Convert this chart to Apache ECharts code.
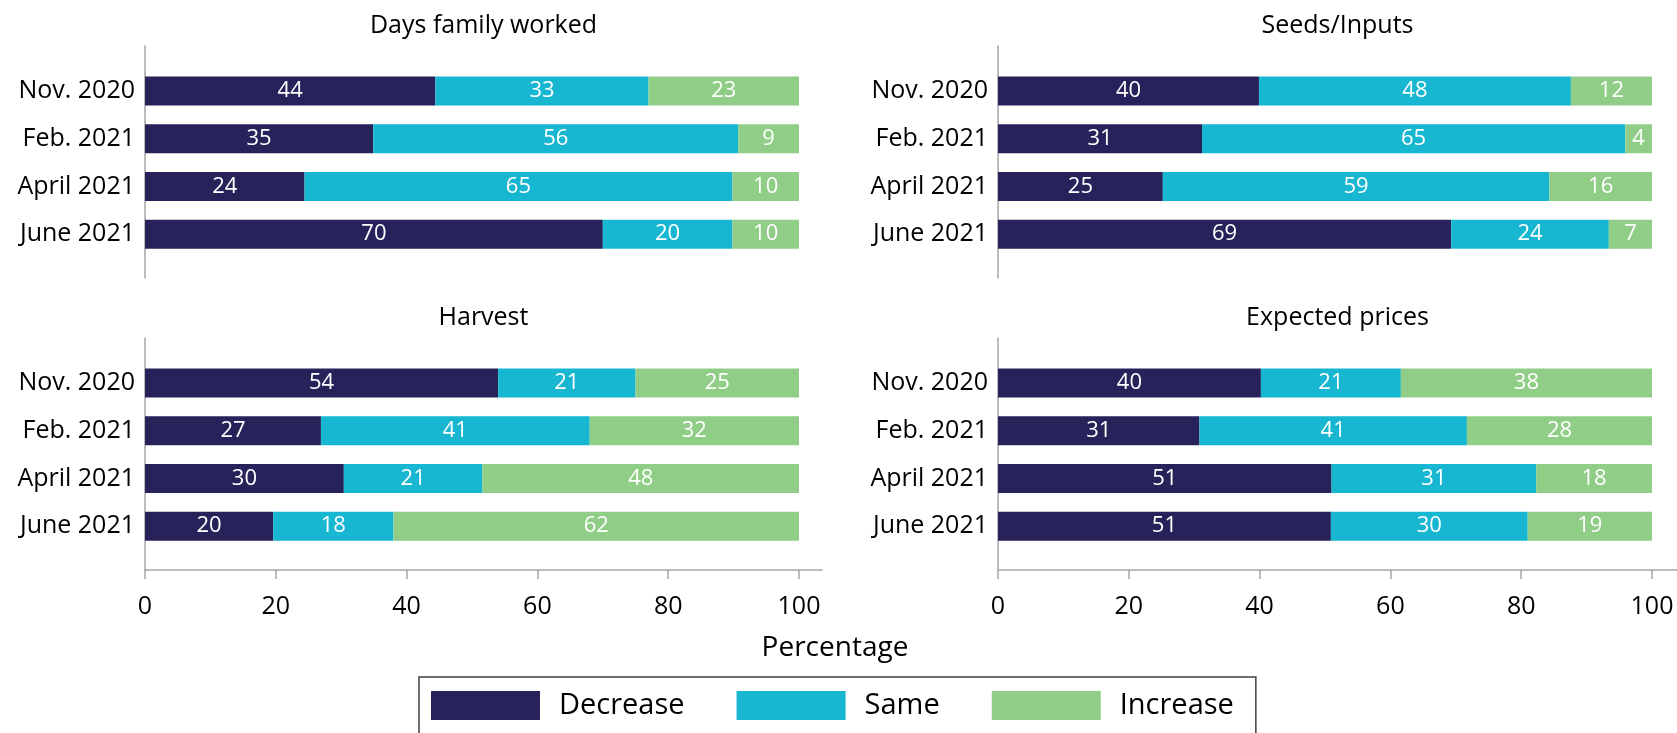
<!DOCTYPE html>
<html>
<head>
<meta charset="utf-8">
<script src="https://cdn.jsdelivr.net/npm/echarts@6/dist/echarts.min.js"></script>
<style>
	html, body { margin: 0; padding: 0; background: #fff; }
	#chart { width: 1677px; height: 733px; }
</style>
</head>
<body>
<div id="chart"></div>
<script>
const periods = ["Nov. 2020", "Feb. 2021", "April 2021", "June 2021"];
const seriesNames = ["Decrease", "Same", "Increase"];
const panelTitles = ["Days family worked", "Seeds/Inputs", "Harvest", "Expected prices"];
const xTicks = [0, 20, 40, 60, 80, 100];

// values (labels show the rounded numbers)
const daysDecrease = [44.4, 34.9, 24.4, 70.0];
const daysSame = [32.6, 55.8, 65.4, 19.8];
const daysIncrease = [23.0, 9.3, 10.2, 10.2];

const seedsDecrease = [39.9, 31.2, 25.2, 69.3];
const seedsSame = [47.7, 64.7, 59.1, 24.1];
const seedsIncrease = [12.4, 4.1, 15.7, 6.6];

const harvestDecrease = [54.0, 26.9, 30.4, 19.6];
const harvestSame = [21.0, 41.1, 21.2, 18.4];
const harvestIncrease = [25.0, 32.0, 48.4, 62.0];

const pricesDecrease = [40.2, 30.8, 51.0, 50.9];
const pricesSame = [21.4, 40.9, 31.3, 30.1];
const pricesIncrease = [38.4, 28.3, 17.7, 19.0];

const FONT = "Open Sans";
const colors = ["#27225a", "#17b6d1", "#90cd86"];
const axisGray = "#a6a6a6";

const panels = [
	{ title: panelTitles[0], values: [daysDecrease, daysSame, daysIncrease], col: 0, row: 0 },
	{ title: panelTitles[1], values: [seedsDecrease, seedsSame, seedsIncrease], col: 1, row: 0 },
	{ title: panelTitles[2], values: [harvestDecrease, harvestSame, harvestIncrease], col: 0, row: 1 },
	{ title: panelTitles[3], values: [pricesDecrease, pricesSame, pricesIncrease], col: 1, row: 1 }
];

// layout in pixels
const colLeft = [145, 998];
const colFrameWidth = [677, 679];
const plotWidth = 654;
const rowFrameTop = [46, 338];
const frameHeight = 232;
const bandInset = 21.2;
const bandHeight = 190.8;

const grid = [];
const xAxis = [];
const yAxis = [];
const series = [];
const title = [];

panels.forEach((p, i) => {
	const left = colLeft[p.col];
	const top = rowFrameTop[p.row];
	const bottomRow = p.row === 1;

	// frame grid: only the long axis lines
	grid.push({ left, top, width: colFrameWidth[p.col], height: frameHeight });
	const frameIdx = grid.length - 1;
	xAxis.push({
		gridIndex: frameIdx, type: "value", min: 0, max: 1,
		show: bottomRow,
		axisLine: { show: true, lineStyle: { color: axisGray, width: 1.5 } },
		axisTick: { show: false }, axisLabel: { show: false }, splitLine: { show: false }
	});
	yAxis.push({
		gridIndex: frameIdx, type: "value", min: 0, max: 1,
		axisLine: { show: true, lineStyle: { color: axisGray, width: 1.5 } },
		axisTick: { show: false }, axisLabel: { show: false }, splitLine: { show: false }
	});

	// data grid
	grid.push({ left, top: top + bandInset, width: plotWidth, height: bandHeight });
	const dataIdx = grid.length - 1;
	xAxis.push({
		gridIndex: dataIdx, type: "value", min: xTicks[0], max: xTicks[xTicks.length - 1], interval: 20,
		show: bottomRow,
		offset: frameHeight - bandInset - bandHeight,
		axisLine: { show: false },
		axisTick: { show: true, length: 9, lineStyle: { color: axisGray, width: 1.5 } },
		axisLabel: { margin: 24, fontSize: 25, color: "#000", fontFamily: FONT },
		splitLine: { show: false }
	});
	yAxis.push({
		gridIndex: dataIdx, type: "category", data: periods, inverse: true,
		axisLine: { show: false }, axisTick: { show: false },
		axisLabel: { margin: 10, fontSize: 25, color: "#000", fontFamily: FONT }
	});

	p.values.forEach((vals, k) => {
		series.push({
			type: "bar",
			name: seriesNames[k],
			stack: "panel" + i,
			xAxisIndex: dataIdx,
			yAxisIndex: dataIdx,
			barWidth: 29,
			data: vals,
			itemStyle: { color: colors[k] },
			label: {
				show: true,
				position: "inside",
				color: "#fff",
				fontSize: 22,
				fontFamily: FONT,
				formatter: d => Math.round(d.value)
			}
		});
	});

	title.push({
		text: p.title,
		left: left + colFrameWidth[p.col] / 2,
		top: top - 33,
		textAlign: "center",
		padding: 0,
		textStyle: { fontSize: 25, fontWeight: "normal", color: "#000", fontFamily: FONT }
	});
});

title.push({
	text: "Percentage",
	left: 835,
	top: 634,
	textAlign: "center",
	padding: 0,
	textStyle: { fontSize: 28, fontWeight: "normal", color: "#000", fontFamily: FONT }
});

const chart = echarts.init(document.getElementById("chart"), null, { renderer: "canvas" });
chart.setOption({
	backgroundColor: "#fff",
	animation: false,
	title,
	legend: {
		data: seriesNames,
		left: 419,
		top: 677,
		icon: "rect",
		itemWidth: 109,
		itemHeight: 29,
		itemGap: 52,
		padding: [14, 22, 14, 12],
		borderColor: "#404040",
		borderWidth: 1.5,
		textStyle: { fontSize: 29, color: "#000", fontFamily: FONT, padding: [0, 0, 0, 14] }
	},
	grid,
	xAxis,
	yAxis,
	series
});
</script>
</body>
</html>
